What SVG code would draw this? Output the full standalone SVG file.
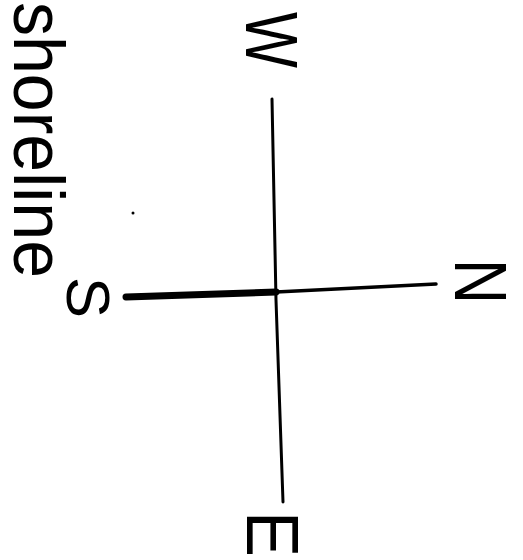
<svg xmlns="http://www.w3.org/2000/svg" width="523" height="560" viewBox="0 0 523 560">
<style>
.lbl{font-family:"Liberation Sans","DejaVu Sans",sans-serif;fill:#000;}
.ln{stroke:#000;fill:none;stroke-linecap:round;}
</style>
<rect width="523" height="560" fill="#fff"/>
<g id="connectors">
<path class="ln" d="M272,99 L276,300 L283,502" stroke-width="3"/>
<path class="ln" d="M126,297 L276,292" stroke-width="7"/>
<path class="ln" d="M276,292 L436,284" stroke-width="3.5"/>
</g>
<g id="shoreline">
<text class="lbl" transform="translate(14,2) rotate(90)" font-size="72" textLength="276" lengthAdjust="spacingAndGlyphs">shoreline</text>
</g>
<g id="W">
<text class="lbl" transform="translate(246,12) rotate(90)" font-size="74" textLength="56" lengthAdjust="spacingAndGlyphs">W</text>
</g>
<g id="N">
<text class="lbl" transform="translate(455,259) rotate(90)" font-size="74" textLength="45" lengthAdjust="spacingAndGlyphs">N</text>
</g>
<g id="S">
<text class="lbl" transform="translate(67,277) rotate(90)" font-size="62" textLength="41" lengthAdjust="spacingAndGlyphs">S</text>
</g>
<g id="E">
<text class="lbl" transform="translate(247,511) rotate(90)" font-size="74" textLength="46" lengthAdjust="spacingAndGlyphs">E</text>
</g>
<g id="marks">
<circle cx="133" cy="213" r="1.5" fill="#000"/>
</g>
</svg>
